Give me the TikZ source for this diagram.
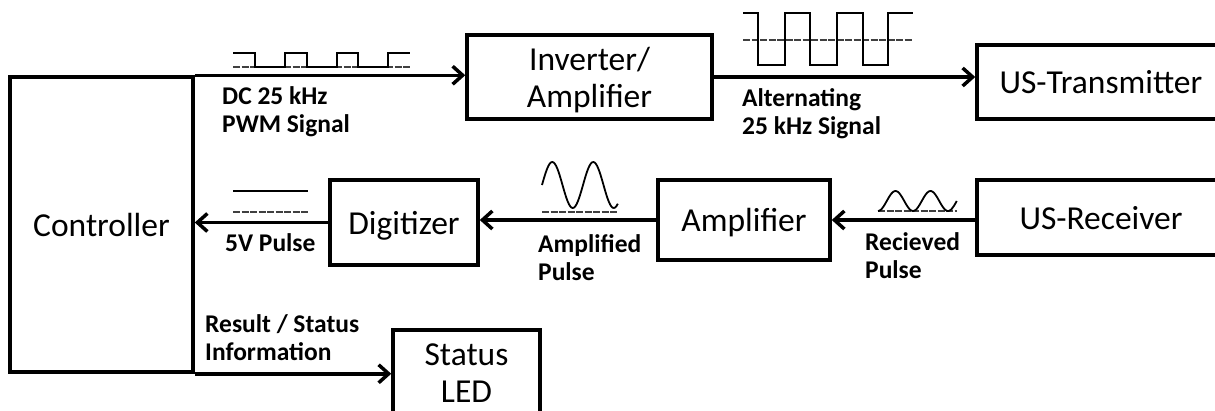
\documentclass[tikz,border=0pt]{standalone}
\usepackage{fontspec}
\setmainfont{Carlito}
\usetikzlibrary{arrows.meta}

\begin{document}
\begin{tikzpicture}[x=1pt, y=-1pt,
    box/.style={draw, line width=3.5pt, font=\fontsize{33.5}{37}\selectfont, align=center, inner sep=0pt, text depth=0pt},
    arrow/.style={-{Straight Barb[length=10pt, width=18pt]}, line width=3.5pt},
    lbl/.style={font=\bfseries\fontsize{25.5}{28}\selectfont, align=left, anchor=north west, inner sep=0pt},
    wave/.style={line width=1.8pt},
    baseln/.style={line width=1.5pt, dash pattern=on 7pt off 1.5pt, black!75}
  ]
  \clip (0,0) rectangle (1215,410);

  % blocks
  \node[box, minimum width=183pt, minimum height=295pt] (ctrl) at (101.5,224.5) {Controller};
  \node[box, minimum width=245pt, minimum height=84pt] (inv) at (589.5,77) {Inverter/\\Amplifier};
  \node[box, minimum width=248pt, minimum height=74pt] (tx) at (1101,82) {US-Transmitter};
  \node[box, minimum width=248pt, minimum height=75pt] (rx) at (1101,217.5) {US-Receiver};
  \node[box, minimum width=172pt, minimum height=80pt] (amp) at (744,220) {Amplifier};
  \node[box, minimum width=148pt, minimum height=85pt] (dig) at (404,222.5) {Digitizer};
  \node[box, minimum width=147pt, minimum height=86pt] (led) at (466.5,373) {Status\\LED};

  % signal paths
  \draw[arrow] (ctrl.north east) -- (ctrl.north east -| inv.west);
  \draw[arrow] (inv.east) -- (inv.east -| tx.west);
  \draw[arrow] (rx.west |- amp.east) -- (amp.east);
  \draw[arrow] (amp.west) -- (amp.west -| dig.east);
  \draw[arrow] (dig.west) -- (dig.west -| ctrl.east);
  \draw[arrow] (ctrl.south east) -- (ctrl.south east -| led.west);

  % labels
  \node[lbl] (pwmlbl) at (222,86) {DC 25 kHz\\PWM Signal};
  \node[lbl] (altlbl) at (742,88) {Alternating\\25 kHz Signal};
  \node[lbl] (pulselbl) at (225,233) {5V Pulse};
  \node[lbl] (amplbl) at (538,234) {Amplified\\Pulse};
  \node[lbl] (rcvlbl) at (865,232) {Recieved\\Pulse};
  \node[lbl] (reslbl) at (205,314) {Result / Status\\Information};

  % waveforms
  \draw[baseln] (233,67) -- (410,67);
  \draw[wave] (233,53) -- (255,53) -- (255,67) -- (285,67) -- (285,53) -- (307,53) -- (307,67)
    -- (337,67) -- (337,53) -- (358,53) -- (358,67) -- (388,67) -- (388,53) -- (410,53);
  \draw[baseln] (743,40) -- (913,40);
  \draw[wave] (743,13) -- (758,13) -- (758,65) -- (785,65) -- (785,13) -- (810,13) -- (810,65)
    -- (837,65) -- (837,13) -- (863,13) -- (863,65) -- (888,65) -- (888,13) -- (913,13);
  \draw[wave] (233,191) -- (308,191);
  \draw[baseln] (233,212) -- (308,212);
  \draw[baseln] (542,212) -- (618,212);
  \draw[wave] plot[domain=0:1.85, samples=60, smooth] ({542+41*\x}, {185-23*sin(360*\x)});
  \draw[baseln] (878,211) -- (957,211);
  \draw[wave] plot[domain=0:2.25, samples=60, smooth] ({878+35*\x}, {211-10*(1-cos(360*\x))});
\end{tikzpicture}
\end{document}
